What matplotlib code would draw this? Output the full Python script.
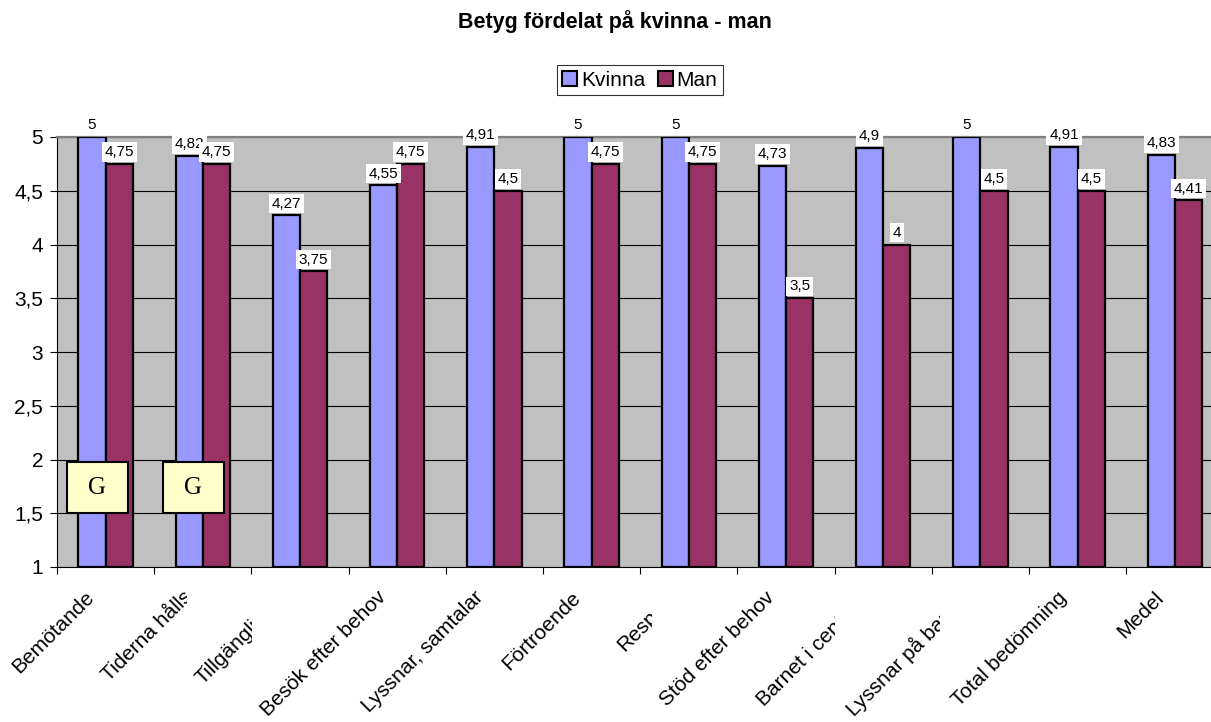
import numpy as np
import matplotlib
matplotlib.use("Agg")
import matplotlib.pyplot as plt
from matplotlib.patches import Patch, Rectangle
from matplotlib.transforms import Bbox

plt.rcParams['font.family'] = ['Liberation Sans', 'DejaVu Sans']

# betyg per fråga, kvinnor och män
fragor = ["Bemötande", "Tiderna hålls", "Tillgänglighet", "Besök efter behov",
          "Lyssnar, samtalar", "Förtroende", "Respekt", "Stöd efter behov",
          "Barnet i centrum", "Lyssnar på barnet", "Total bedömning", "Medel"]
kvinna = [5, 4.82, 4.27, 4.55, 4.91, 5, 5, 4.73, 4.9, 5, 4.91, 4.83]
man = [4.75, 4.75, 3.75, 4.75, 4.5, 4.75, 4.75, 3.5, 4, 4.5, 4.5, 4.41]
serier = ["Kvinna", "Man"]
yticks = [1, 1.5, 2, 2.5, 3, 3.5, 4, 4.5, 5]

fig_w, fig_h = 1211, 722
fig = plt.figure(figsize=(fig_w / 100, fig_h / 100), dpi=100)
fig.patch.set_facecolor('white')

# plot area runs a bit past the right edge
ax = fig.add_axes([57 / fig_w, 1 - 567 / fig_h, 12 * 97.2 / fig_w, 430 / fig_h])
ax.set_facecolor('#C0C0C0')

x = np.arange(len(fragor))
w = 0.28
farg_k = '#9999FF'
farg_m = '#993366'

b1 = ax.bar(x - w / 2, np.array(kvinna) - 1, w, bottom=1, color=farg_k,
            edgecolor='black', linewidth=1.6, zorder=3)
b2 = ax.bar(x + w / 2, np.array(man) - 1, w, bottom=1, color=farg_m,
            edgecolor='black', linewidth=1.6, zorder=3)


def etikett(v):
    return f"{v:g}".replace('.', ',')


for xs, vals in ((x - w / 2, kvinna), (x + w / 2, man)):
    for xi, v in zip(xs, vals):
        ax.annotate(etikett(v), (xi, v), xytext=(0, 3.5), textcoords='offset points',
                    ha='center', va='bottom', fontsize=11, zorder=6,
                    annotation_clip=False,
                    bbox=dict(boxstyle='square,pad=0.18', fc='white', ec='none'))

ax.set_xlim(-0.5, 11.5)
ax.set_ylim(1, 5)
ax.set_yticks(yticks)
ax.set_yticklabels([etikett(t) for t in yticks], fontsize=15)
ax.yaxis.grid(True, color='black', linewidth=0.8)
ax.set_axisbelow(True)

# tick marks between categories, labels drawn separately
ax.set_xticks(np.arange(-0.5, 12, 1))
ax.set_xticklabels([])
ax.tick_params(axis='both', direction='out', length=5, width=0.8, color='black')
ax.tick_params(axis='y', pad=5)

for s in ['left', 'bottom']:
    ax.spines[s].set_color('black')
    ax.spines[s].set_linewidth(0.8)
ax.spines['top'].set_color('#808080')
ax.spines['top'].set_linewidth(1.6)
ax.spines['right'].set_visible(False)

# some labels are cut off on the right (pixel x of the cut)
klipp = {1: 187, 2: 252, 6: 652, 8: 835, 9: 940}
for i, namn in enumerate(fragor):
    t = ax.annotate(namn, (i, 0), xycoords=('data', 'axes fraction'),
                    xytext=(-15, -15), textcoords='offset points',
                    rotation=45, rotation_mode='anchor', ha='right', va='top',
                    fontsize=15, annotation_clip=False)
    if i in klipp:
        t.set_clip_box(Bbox.from_extents(0, 0, klipp[i], fig_h))
        t.set_clip_on(True)

# comment markers
for x0 in (-0.397, 0.59):
    ax.add_patch(Rectangle((x0, 1.5), 0.625, 0.475, facecolor='#FFFFCC',
                           edgecolor='black', linewidth=1.5, zorder=7))
    ax.text(x0 + 0.3125, 1.7375, "G", ha='center', va='center', fontsize=18,
            family='Liberation Serif', zorder=8)

fig.text(615 / fig_w, 1 - 28 / fig_h, "Betyg fördelat på kvinna - man",
         ha='center', va='baseline', fontsize=15.5, fontweight='bold')

handles = [Patch(facecolor=farg_k, edgecolor='black', linewidth=1.5),
           Patch(facecolor=farg_m, edgecolor='black', linewidth=1.5)]
leg = fig.legend(handles, serier, loc='center', ncol=2,
                 bbox_to_anchor=(640 / fig_w, 1 - 80 / fig_h),
                 fontsize=15, frameon=True, fancybox=False, edgecolor='black',
                 handlelength=0.7, handleheight=0.7, handletextpad=0.2,
                 columnspacing=0.6, borderpad=0.25, borderaxespad=0)
leg.get_frame().set_linewidth(0.8)

fig.savefig("out.png", dpi=100)
